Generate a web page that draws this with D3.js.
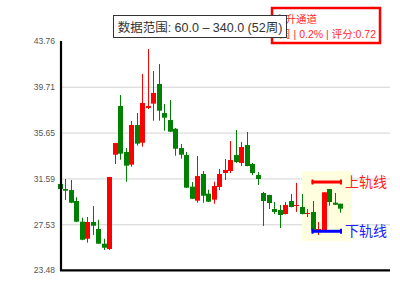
<!DOCTYPE html>
<html><head><meta charset="utf-8">
<script src="https://cdn.jsdelivr.net/npm/d3@7/dist/d3.min.js"></script>
<style>body{margin:0;background:#fff}svg{display:block}</style>
</head><body>
<svg id="chart" width="400" height="300"></svg>
<script>
// ---- data ----
const weeks = d3.range(1, 53); // 52 weekly candles
const opens  = [31.10,30.65,30.56,29.59,27.76,26.25,27.73,27.11,25.81,25.34,33.69,38.00,33.93,32.81,36.32,34.75,37.83,38.21,39.95,37.38,36.76,35.99,34.28,33.66,30.86,29.62,31.98,30.24,29.71,30.83,32.07,32.25,33.66,32.96,34.55,32.87,31.89,30.30,30.12,28.88,28.79,28.44,29.59,29.15,29.06,28.44,28.62,26.93,26.87,30.65,29.44,29.35];
const closes = [30.65,30.50,29.44,27.76,26.16,27.73,27.40,25.81,25.45,31.72,34.73,33.78,32.72,36.32,34.67,38.27,38.00,39.16,37.59,36.97,35.73,34.22,33.69,30.77,29.79,31.80,30.06,29.53,30.92,31.98,32.34,33.22,33.04,34.37,32.69,32.07,31.54,29.59,29.41,28.62,28.35,29.24,29.06,29.24,28.44,28.53,27.02,27.11,30.36,29.50,29.26,28.91];
const highs  = [31.51,31.54,31.45,29.92,28.11,28.17,29.15,27.93,26.25,31.72,34.73,38.98,34.28,36.68,37.38,40.84,43.05,41.10,41.72,38.18,38.54,36.06,34.64,33.93,31.27,33.58,32.25,30.59,31.30,32.43,33.31,34.90,35.88,34.82,35.70,32.96,32.16,30.39,30.14,29.50,29.24,29.50,30.21,31.19,30.21,28.88,29.59,27.73,30.36,30.65,30.30,29.35];
const lows   = [28.55,29.68,29.40,27.72,26.12,25.90,26.58,25.78,25.25,25.25,32.87,33.25,31.30,32.63,34.49,34.40,37.74,36.70,36.70,35.82,35.70,33.60,33.34,30.74,29.76,29.44,29.44,29.50,29.35,30.56,31.45,32.07,32.96,32.69,32.66,31.89,31.01,27.38,28.88,28.44,27.20,28.40,29.03,28.62,28.40,28.17,26.98,26.58,26.87,29.17,29.24,28.55];
const yTickLabels = ["43.76","39.71","35.65","31.59","27.53","23.48"];
const yTickValues = yTickLabels.map(Number);
const railUpper = 31.27, railLower = 26.91;
const railStart = 46, railEnd = 51;
const titleText = "数据范围: 60.0 – 340.0 (52周)";
const badgeLine1 = "上升通道";
const badgeLine2 = "52周 | 0.2% | 评分:0.72";
const upperLabel = "上轨线", lowerLabel = "下轨线";

const FONT = "'Liberation Sans', Arial, 'Noto Sans CJK SC', sans-serif";
const CJK = "'Noto Sans CJK SC', sans-serif";

// ---- scales ----
const svg = d3.select("#chart");
const x = d3.scaleLinear().domain([0, weeks.length - 1]).range([60, 340]);
const y = d3.scaleLinear().domain([23.48, 43.76]).range([270, 41]);
const candles = weeks.map((w, i) => ({i, o: opens[i], c: closes[i], h: highs[i], l: lows[i]}));
const UP = "#ff0000", DOWN = "#008000";

// gridlines
const grid = svg.append("g").attr("transform", "translate(61,0)")
  .call(d3.axisLeft(y).tickValues(yTickValues.slice(1, 5)).tickSize(-329).tickFormat(""));
grid.select(".domain").remove();
grid.selectAll("line").attr("stroke", "#d3d3d3").attr("stroke-width", 1);

// highlight box around channel
const hx0 = x(railStart) - 10.5, hx1 = x(railEnd) + 11;
const hy0 = y(railUpper) - 11, hy1 = y(railLower) + 10;
svg.append("rect").attr("x", hx0).attr("y", hy0).attr("width", hx1 - hx0).attr("height", hy1 - hy0)
  .attr("fill", "#ffffe0");

// candles
const cg = svg.append("g");
cg.selectAll("line.wick").data(candles).join("line")
  .attr("x1", d => Math.round(x(d.i)) + 0.5).attr("x2", d => Math.round(x(d.i)) + 0.5)
  .attr("y1", d => y(d.h)).attr("y2", d => y(d.l))
  .attr("stroke", d => d.c >= d.o ? UP : DOWN).attr("stroke-width", 1);
cg.selectAll("rect.body").data(candles).join("rect")
  .attr("x", d => Math.round(x(d.i)) - 2).attr("width", 5)
  .attr("y", d => y(Math.max(d.o, d.c)))
  .attr("height", d => Math.max(1, y(Math.min(d.o, d.c)) - y(Math.max(d.o, d.c))))
  .attr("fill", d => d.c >= d.o ? UP : DOWN);

// rails
function rail(v, col) {
  const g = svg.append("g");
  const rx0 = x(railStart) - 1, rx1 = x(railEnd) + 2, ry = y(v);
  g.append("line").attr("x1", rx0).attr("x2", rx1).attr("y1", ry).attr("y2", ry)
    .attr("stroke", col).attr("stroke-width", 3);
  [rx0 + 1, rx1 - 1].forEach(px => g.append("line").attr("x1", px).attr("x2", px)
    .attr("y1", ry - 2.5).attr("y2", ry + 2.5).attr("stroke", col).attr("stroke-width", 2));
}
rail(railUpper, "#ff0000");
rail(railLower, "#0000ff");
svg.append("text").attr("x", x(railEnd) + 5).attr("y", y(railUpper)).attr("dy", "0.36em")
  .attr("font-family", CJK).attr("font-size", 14)
  .attr("fill", "#ff2020").text(upperLabel);
svg.append("text").attr("x", x(railEnd) + 5).attr("y", y(railLower)).attr("dy", "0.36em")
  .attr("font-family", CJK).attr("font-size", 14)
  .attr("fill", "#2020ff").text(lowerLabel);

// axes
const yAxis = svg.append("g").attr("transform", "translate(61,0)")
  .call(d3.axisLeft(y).tickValues(yTickValues).tickSize(0).tickPadding(6)
    .tickFormat((d, i) => yTickLabels[i]));
yAxis.select(".domain").remove();
yAxis.selectAll("text").attr("font-family", FONT)
  .attr("font-size", 8.5).attr("fill", "#555");
svg.append("line").attr("x1", 61).attr("x2", 61).attr("y1", y(43.76)).attr("y2", 271)
  .attr("stroke", "#000").attr("stroke-width", 2.2);
svg.append("line").attr("x1", 60).attr("x2", 390).attr("y1", 270.3).attr("y2", 270.3)
  .attr("stroke", "#000").attr("stroke-width", 2.2);

// badge (red box)
svg.append("rect").attr("x", 272).attr("y", 8).attr("width", 108).attr("height", 35)
  .attr("fill", "#fff").attr("stroke", "#ff0000").attr("stroke-width", 2.5);
svg.append("text").attr("x", 275).attr("y", 22.5)
  .attr("font-family", FONT).attr("font-size", 10.5)
  .attr("fill", "#ff2a2a").text(badgeLine1);
svg.append("text").attr("x", 376).attr("y", 37.5).attr("text-anchor", "end")
  .attr("font-family", FONT).attr("font-size", 10.5)
  .attr("fill", "#ff2a2a").text(badgeLine2);

// title box
svg.append("rect").attr("x", 113.5).attr("y", 15.5).attr("width", 173).attr("height", 22)
  .attr("fill", "#fff").attr("stroke", "#333").attr("stroke-width", 1);
svg.append("text").attr("x", 200).attr("y", 31.5).attr("text-anchor", "middle")
  .attr("font-family", FONT).attr("font-size", 12.5)
  .attr("fill", "#333").text(titleText);
</script>
</body></html>
